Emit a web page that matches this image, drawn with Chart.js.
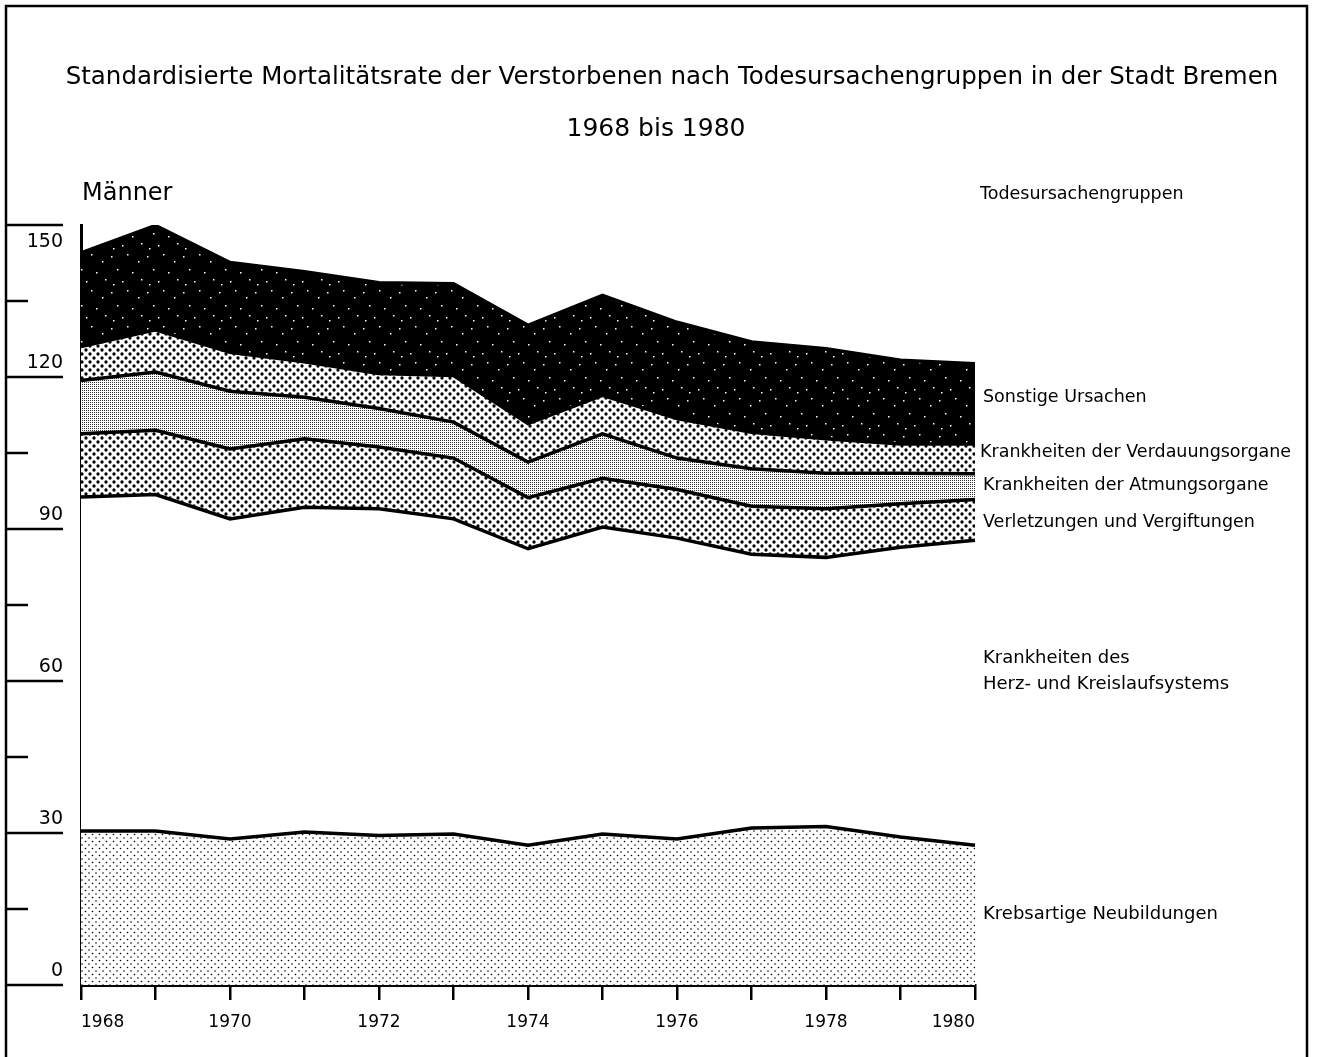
<!DOCTYPE html>
<html lang="de">
<head>
<meta charset="utf-8">
<title>Standardisierte Mortalitätsrate Bremen 1968 bis 1980</title>
<script src="https://cdn.jsdelivr.net/npm/chart.js"></script>
<style>
  html, body { margin: 0; padding: 0; background: #fff; }
  #wrap { position: relative; width: 1317px; height: 1057px; }
</style>
</head>
<body>
<div id="wrap"><canvas id="chart" width="1317" height="1057"></canvas></div>
<script>
// Jahre (x-Achse)
var YEARS = ["1968", "1969", "1970", "1971", "1972", "1973", "1974", "1975", "1976", "1977", "1978", "1979", "1980"];
// Werte je Todesursachengruppe (Männer), von unten nach oben gestapelt
var KREBS    = [30.4, 30.4, 28.8, 30.2, 29.5, 29.8, 27.6, 29.8, 28.8, 31.0, 31.3, 29.2, 27.6];
var HERZ     = [65.9, 66.4, 63.2, 64.1, 64.5, 62.2, 58.5, 60.6, 59.4, 54.0, 53.1, 57.2, 60.2];
var VERLETZ  = [12.5, 12.7, 13.8, 13.5, 12.2, 12.0, 10.1, 9.6, 9.6, 9.5, 9.6, 8.6, 8.0];
var ATMUNG   = [10.5, 11.5, 11.4, 8.2, 7.6, 7.1, 7.0, 8.8, 6.2, 7.4, 7.0, 6.0, 5.1];
var VERDAU   = [6.7, 8.3, 7.7, 7.0, 6.9, 9.2, 7.6, 7.6, 7.8, 7.2, 6.8, 5.8, 5.9];
var SONSTIGE = [18.5, 20.6, 17.7, 17.8, 17.9, 18.1, 19.4, 19.7, 19.0, 17.8, 17.8, 16.5, 15.8];
// y-Achse
var Y_MIN = 0, Y_MAX = 150, Y_STEP = 15;
var Y_LABELS = [0, 30, 60, 90, 120, 150];

var FONT = "'DejaVu Sans', 'Liberation Sans', sans-serif";

function pattern(size, bg, draw) {
  var c = document.createElement("canvas");
  c.width = c.height = size;
  var g = c.getContext("2d");
  g.fillStyle = bg;
  g.fillRect(0, 0, size, size);
  g.fillStyle = bg === "#000" ? "#fff" : "#000";
  draw(g, size);
  return g.createPattern(c, "repeat");
}
function dot(g, x, y, r) {
  g.beginPath();
  g.arc(x, y, r, 0, Math.PI * 2);
  g.fill();
}

// feines Punktraster (Krebs)
var fineDots = pattern(7, "#fff", function (g) {
  dot(g, 1.5, 1.5, 0.8);
  dot(g, 5, 5, 0.8);
});
// grobes Punktraster (Verletzungen, Verdauung)
var coarseDots = pattern(8, "#fff", function (g) {
  dot(g, 2, 2, 1.65);
  dot(g, 6, 6, 1.65);
});
// graues Raster (Atmungsorgane)
var greyScreen = pattern(2, "#fff", function (g) {
  g.fillStyle = "#333";
  g.fillRect(0, 0, 1, 1);
});
// schwarz mit weissen Sprenkeln (Sonstige)
var speckles = pattern(36, "#000", function (g) {
  var pts = [[3, 4], [19, 2], [30, 9], [9, 17], [24, 20], [14, 29], [33, 27], [5, 32]];
  pts.forEach(function (p) { g.fillRect(p[0], p[1], 1.5, 1.5); });
});

function band(label, data, fill, target) {
  return {
    label: label,
    data: data,
    backgroundColor: fill,
    borderColor: "#000",
    borderWidth: 3.5,
    pointRadius: 0,
    tension: 0,
    fill: target
  };
}

var decorations = {
  id: "decorations",
  afterDraw: function (chart) {
    var ctx = chart.ctx;
    var y = chart.scales.y;
    ctx.save();
    ctx.strokeStyle = "#000";
    ctx.fillStyle = "#000";

    // Rahmen
    ctx.lineWidth = 2.5;
    ctx.beginPath();
    ctx.moveTo(6, 1057);
    ctx.lineTo(6, 6);
    ctx.lineTo(1307, 6);
    ctx.lineTo(1307, 1057);
    ctx.stroke();

    // y-Ticks links am Rahmen
    ctx.font = "19px " + FONT;
    ctx.textAlign = "right";
    ctx.textBaseline = "alphabetic";
    y.ticks.forEach(function (t) {
      var py = y.getPixelForValue(t.value);
      var major = Y_LABELS.indexOf(t.value) >= 0;
      ctx.lineWidth = 2.5;
      ctx.beginPath();
      ctx.moveTo(6, py);
      ctx.lineTo(major ? 63 : 28, py);
      ctx.stroke();
      if (major) {
        var atTop = t.value === Y_MAX;
        ctx.fillText(String(t.value), 63, atTop ? py + 22 : py - 9);
      }
    });

    // Titel
    ctx.textAlign = "center";
    ctx.font = "24.5px " + FONT;
    ctx.fillText("Standardisierte Mortalitätsrate der Verstorbenen nach Todesursachengruppen in der Stadt Bremen", 672, 84);
    ctx.font = "25px " + FONT;
    ctx.fillText("1968 bis 1980", 656, 136);

    ctx.textAlign = "left";
    ctx.font = "24px " + FONT;
    ctx.fillText("Männer", 82, 200);

    ctx.font = "17.5px " + FONT;
    ctx.fillText("Todesursachengruppen", 980, 199);
    ctx.fillText("Sonstige Ursachen", 983, 402);
    ctx.fillText("Krankheiten der Verdauungsorgane", 980, 457);
    ctx.fillText("Krankheiten der Atmungsorgane", 983, 490);
    ctx.fillText("Verletzungen und Vergiftungen", 983, 527);
    ctx.font = "18px " + FONT;
    ctx.fillText("Krankheiten des", 983, 663);
    ctx.fillText("Herz- und Kreislaufsystems", 983, 689);
    ctx.fillText("Krebsartige Neubildungen", 983, 919);
    ctx.restore();
  }
};

new Chart(document.getElementById("chart"), {
  type: "line",
  data: {
    labels: YEARS,
    datasets: [
      band("Krebsartige Neubildungen", KREBS, fineDots, "origin"),
      band("Krankheiten des Herz- und Kreislaufsystems", HERZ, "#fff", "-1"),
      band("Verletzungen und Vergiftungen", VERLETZ, coarseDots, "-1"),
      band("Krankheiten der Atmungsorgane", ATMUNG, greyScreen, "-1"),
      band("Krankheiten der Verdauungsorgane", VERDAU, coarseDots, "-1"),
      band("Sonstige Ursachen", SONSTIGE, speckles, "-1")
    ]
  },
  options: {
    responsive: false,
    animation: false,
    layout: { padding: { top: 225, right: 342, bottom: 0, left: 0 } },
    plugins: {
      legend: { display: false },
      title: { display: false },
      tooltip: { enabled: false },
      filler: { drawTime: "beforeDatasetsDraw" }
    },
    scales: {
      x: {
        type: "category",
        offset: false,
        grid: { drawOnChartArea: false, drawTicks: true, tickLength: 15, color: "#000", lineWidth: 2.5 },
        border: { display: true, color: "#000", width: 3 },
        ticks: {
          autoSkip: false,
          maxRotation: 0,
          align: "inner",
          padding: 12,
          color: "#000",
          font: { family: FONT, size: 17 },
          callback: function (v, i) {
            return i % 2 === 0 ? YEARS[i] : "";
          }
        },
        afterFit: function (s) { s.height = 72; }
      },
      y: {
        stacked: true,
        min: Y_MIN,
        max: Y_MAX,
        ticks: { display: false, stepSize: Y_STEP },
        grid: { drawOnChartArea: false, drawTicks: false },
        border: { display: true, color: "#000", width: 3 },
        afterFit: function (s) { s.width = 81; }
      }
    }
  },
  plugins: [decorations]
});
</script>
</body>
</html>
